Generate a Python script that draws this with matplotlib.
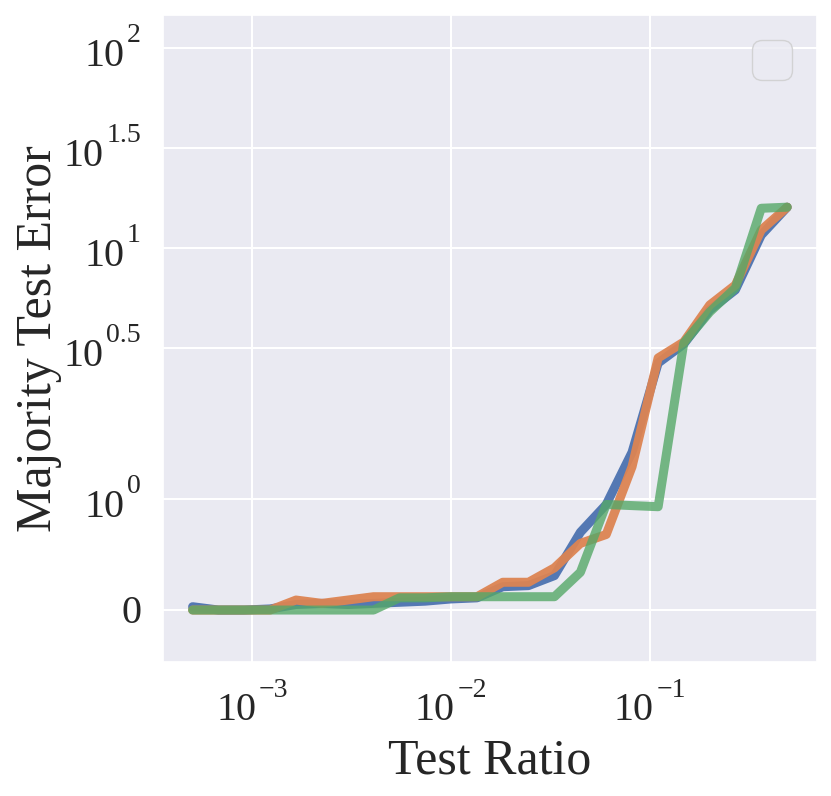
import numpy as np
import matplotlib
matplotlib.use('Agg')
import matplotlib.pyplot as plt
import seaborn as sns

sns.set_theme(style='darkgrid')
plt.rcParams['font.family'] = ['Liberation Serif', 'DejaVu Serif']
plt.rcParams['grid.linewidth'] = 1.5

# test ratio (x)
test_ratio = [0.000501, 0.000676, 0.000912, 0.00123, 0.00166, 0.00224,
              0.00302, 0.00407, 0.00550, 0.00741, 0.0100, 0.0135,
              0.0182, 0.0245, 0.0331, 0.0447, 0.0603, 0.0813,
              0.110, 0.148, 0.200, 0.269, 0.363, 0.490]

err_blue = [0.03, 0.0, 0.0, 0.01, 0.05, 0.06, 0.05, 0.06, 0.07, 0.08, 0.10, 0.11,
            0.21, 0.22, 0.31, 0.70, 0.95, 1.42, 2.66, 3.31, 4.9, 6.17, 11.6, 16.0]
err_orange = [0.0, 0.0, 0.0, 0.0, 0.09, 0.06, 0.09, 0.12, 0.12, 0.12, 0.12, 0.12,
              0.25, 0.25, 0.38, 0.60, 0.68, 1.29, 2.82, 3.39, 5.19, 6.53, 12.3, 16.0]
err_green = [0.0, 0.0, 0.0, 0.0, 0.0, 0.0, 0.0, 0.0, 0.11, 0.11, 0.12, 0.12,
             0.12, 0.12, 0.12, 0.34, 0.95, 0.94, 0.93, 3.35, 4.79, 6.31, 15.8, 16.0]

xticks = [1e-3, 1e-2, 1e-1]
xtick_exp = ['\u22123', '\u22122', '\u22121']
yticks = [0, 1, 10**0.5, 10, 10**1.5, 100]
ytick_exp = [None, '0', '0.5', '1', '1.5', '2']

FS = 29      # tick label size
FS_SUP = 20  # exponent size

fig = plt.figure(figsize=(8.31, 7.96), dpi=100)
ax = fig.add_axes([0.196, 0.168, 0.787, 0.813])

pal = sns.color_palette('deep')
for ys, c, a in zip([err_blue, err_orange, err_green], pal[:3], [0.95, 0.95, 0.8]):
    ax.plot(test_ratio, ys, color=c, lw=6.5, alpha=a, solid_capstyle='round')

ax.set_xscale('log')
ax.set_yscale('symlog', linthresh=2)
ax.set_ylim(-0.47, 146)
ax.set_xticks(xticks)
ax.set_yticks(yticks)
ax.set_xticklabels([])
ax.set_yticklabels([])
ax.minorticks_off()

fig.canvas.draw()
r = fig.canvas.get_renderer()

def text_w(s, size):
    t = fig.text(0, 0, s, fontsize=size)
    w = t.get_window_extent(r).width
    t.remove()
    return w

# tick labels written as 10 + raised exponent (TeX-like look)
ytr = ax.get_yaxis_transform()
for v, e in zip(yticks, ytick_exp):
    if e is None:
        ax.annotate('0', (0, v), xycoords=ytr, xytext=(-21, -13),
                    textcoords='offset pixels', ha='right', va='baseline', fontsize=FS)
        continue
    ws = text_w(e, FS_SUP)
    ax.annotate(e, (0, v), xycoords=ytr, xytext=(-22, 6),
                textcoords='offset pixels', ha='right', va='baseline', fontsize=FS_SUP)
    ax.annotate('10', (0, v), xycoords=ytr, xytext=(-22 - ws - 3, -18),
                textcoords='offset pixels', ha='right', va='baseline', fontsize=FS)

xtr = ax.get_xaxis_transform()
wb = text_w('10', FS)
for v, e in zip(xticks, xtick_exp):
    ws = text_w(e, FS_SUP)
    total = wb + 3 + ws
    ax.annotate('10', (v, 0), xycoords=xtr, xytext=(-total / 2, -58),
                textcoords='offset pixels', ha='left', va='baseline', fontsize=FS)
    ax.annotate(e, (v, 0), xycoords=xtr, xytext=(-total / 2 + wb + 3, -35),
                textcoords='offset pixels', ha='left', va='baseline', fontsize=FS_SUP)

fig.text(490 / 831, 23 / 796, 'Test Ratio', fontsize=36, ha='center', va='baseline')
fig.text(51 / 831, 1 - 339 / 796, 'Majority Test Error', fontsize=36, rotation=90,
         rotation_mode='anchor', ha='center', va='baseline')

ax.legend(fontsize=36)

fig.savefig('out.png', dpi=100)
